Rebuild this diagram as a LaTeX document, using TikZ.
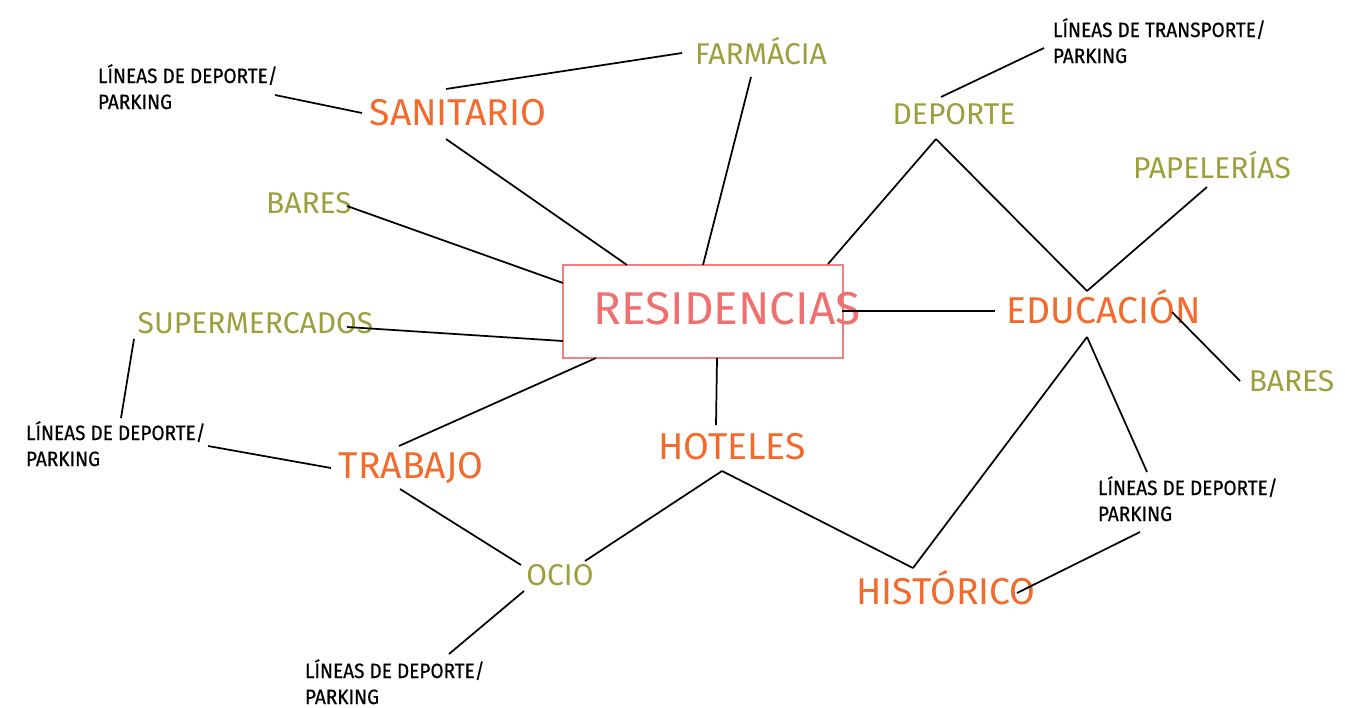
\documentclass[tikz,border=0pt]{standalone}
\usepackage{fontspec}
\setmainfont{Fira Sans}
\newfontfamily\notefont{Fira Sans}[FakeStretch=0.92,FakeBold=0.5]
\definecolor{orangeT}{HTML}{F26B2D}
\definecolor{oliveT}{HTML}{9BA03C}
\definecolor{pinkT}{HTML}{F07070}
\definecolor{pinkB}{HTML}{F28080}
\begin{document}
\begin{tikzpicture}[x=0.75pt,y=-0.75pt,
  every node/.style={inner sep=0pt,outer sep=0pt},
  main/.style={text=orangeT,font=\fontsize{28}{30}\selectfont,anchor=base},
  sub/.style={text=oliveT,font=\fontsize{22.5}{24}\selectfont,anchor=base},
  note/.style={text=black,font=\notefont\fontsize{15.5}{19.5}\selectfont,anchor=base west},
  link/.style={draw=black,line width=1.3pt},
]
\useasboundingbox (0,0) rectangle (1345,707);
% centre
\node[draw=pinkB,line width=1pt,minimum width=210pt,minimum height=69.75pt] (res) at (703,311.5) {};
\node[text=pinkT,font=\fontsize{34.5}{36}\selectfont,anchor=base] (restext) at (727,324) {RESIDENCIAS};
% orange
\node[main] (san) at (458,125) {SANITARIO};
\node[main] (trab) at (411,478) {TRABAJO};
\node[main] (hot) at (732,459) {HOTELES};
\node[main] (hist) at (946,604) {HISTÓRICO};
\node[main] (edu) at (1103.5,323) {EDUCACIÓN};
% olive
\node[sub] (farm) at (761,64) {FARMÁCIA};
\node[sub] (barL) at (309,213) {BARES};
\node[sub] (sup) at (255.5,333) {SUPERMERCADOS};
\node[sub] (ocio) at (560,585) {OCIO};
\node[sub] (barR) at (1291.5,391) {BARES};
\node[sub] (pap) at (1212,178) {PAPELERÍAS};
\node[sub] (dep) at (954,124) {DEPORTE};
% notes
\node[note] (bl1) at (98,83) {\begin{tabular}[t]{@{}l@{}}LÍNEAS DE DEPORTE/\\PARKING\end{tabular}};
\node[note] (bl5) at (1053,37) {\begin{tabular}[t]{@{}l@{}}LÍNEAS DE TRANSPORTE/\\PARKING\end{tabular}};
\node[note] (bl2) at (26,440) {\begin{tabular}[t]{@{}l@{}}LÍNEAS DE DEPORTE/\\PARKING\end{tabular}};
\node[note] (bl3) at (305,678) {\begin{tabular}[t]{@{}l@{}}LÍNEAS DE DEPORTE/\\PARKING\end{tabular}};
\node[note] (bl4) at (1098,495) {\begin{tabular}[t]{@{}l@{}}LÍNEAS DE DEPORTE/\\PARKING\end{tabular}};
% connectors
\draw[link] ([shift={(177,12)}]bl1.base west) -- ([shift={(-96,-12)}]san.base);
\draw[link] ([shift={(-12,-36)}]san.base) -- ([shift={(-79,-11)}]farm.base);
\draw[link] ([shift={(-12,14)}]san.base) -- ([shift={(-76,-46.5)}]res.center);
\draw[link] ([shift={(-10,13)}]farm.base) -- ([shift={(0,-46.5)}]res.center);
\draw[link] ([shift={(38,-7)}]barL.base) -- ([shift={(-140,-28.5)}]res.center);
\draw[link] ([shift={(91.5,-6)}]sup.base) -- ([shift={(-140,29.5)}]res.center);
\draw[link] ([shift={(-121.5,6)}]sup.base) -- ([shift={(95,-22)}]bl2.base west);
\draw[link] ([shift={(182,6)}]bl2.base west) -- ([shift={(-80,-10)}]trab.base);
\draw[link] ([shift={(-12,-32)}]trab.base) -- ([shift={(-107,46.5)}]res.center);
\draw[link] ([shift={(-11,11)}]trab.base) -- ([shift={(-39,-20)}]ocio.base);
\draw[link] ([shift={(-36,6)}]ocio.base) -- ([shift={(144,-24)}]bl3.base west);
\draw[link] ([shift={(25,-24)}]ocio.base) -- ([shift={(-10,12)}]hot.base);
\draw[link] ([shift={(-10,12)}]hot.base) -- ([shift={(-33,-36)}]hist.base);
\draw[link] ([shift={(-16,-34)}]hot.base) -- ([shift={(14,46.5)}]res.center);
\draw[link] ([shift={(-33,-36)}]hist.base) -- ([shift={(-16.5,14)}]edu.base);
\draw[link] ([shift={(-16.5,14)}]edu.base) -- ([shift={(49,-23)}]bl4.base west);
\draw[link] ([shift={(71,-11)}]hist.base) -- ([shift={(42,37)}]bl4.base west);
\draw[link] ([shift={(139,-0.5)}]res.center) -- ([shift={(-108.5,-12)}]edu.base);
\draw[link] ([shift={(125,-47.5)}]res.center) -- ([shift={(-18,15)}]dep.base);
\draw[link] ([shift={(-18,15)}]dep.base) -- ([shift={(-16.5,-32)}]edu.base);
\draw[link] ([shift={(-16.5,-32)}]edu.base) -- ([shift={(-5,9)}]pap.base);
\draw[link] ([shift={(68.5,-11)}]edu.base) -- ([shift={(-51.5,-10)}]barR.base);
\draw[link] ([shift={(-13,-27)}]dep.base) -- ([shift={(-9,11)}]bl5.base west);
\end{tikzpicture}
\end{document}
